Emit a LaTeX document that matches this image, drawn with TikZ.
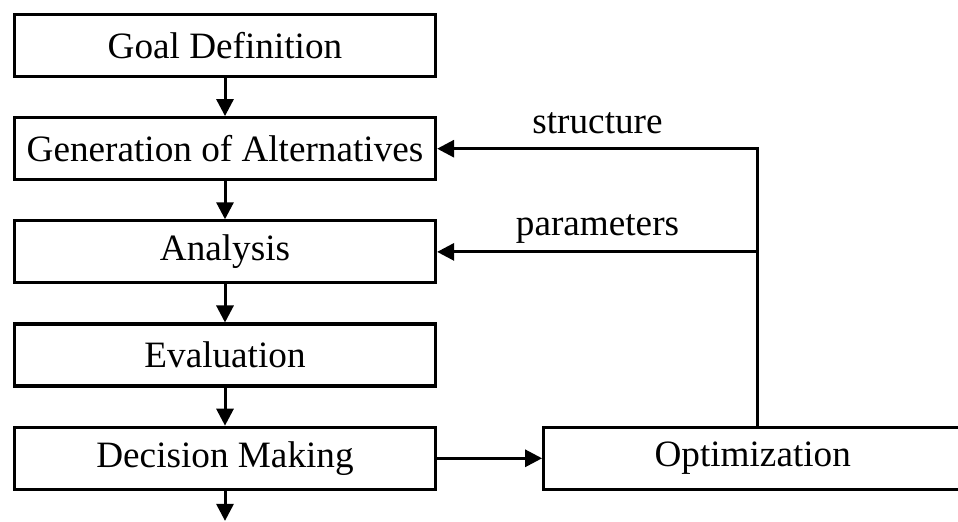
\documentclass[tikz,border=0pt]{standalone}
\usepackage{fontspec}
\setmainfont{Liberation Serif}
\usetikzlibrary{arrows.meta, positioning}

\begin{document}
\begin{tikzpicture}[
  node distance=19pt,
  box/.style={draw=black, line width=1.6pt, align=center, minimum width=210.5pt,
              minimum height=31pt, inner sep=0pt, font=\fontsize{18.6}{22}\selectfont},
  lbl/.style={font=\fontsize{18.6}{22}\selectfont},
  arr/.style={-{Triangle[length=8.5pt, width=8.5pt]}, line width=1.5pt}
]
\useasboundingbox (0,0) rectangle (479pt,-261pt);
\node[box] (goal) at (112.5pt,-22.75pt) {Goal Definition};
\node[box, below=of goal] (gen) {Generation of Alternatives};
\node[box, below=of gen] (ana) {Analysis};
\node[box, below=of ana] (eval) {Evaluation};
\node[box, below=of eval] (dec) {Decision Making};
\node[box, right=52.5pt of dec, minimum width=209pt] (opt) {Optimization};
\coordinate[below=15pt of dec] (exit);

\draw[arr] (goal) -- (gen);
\draw[arr] (gen) -- (ana);
\draw[arr] (ana) -- (eval);
\draw[arr] (eval) -- (dec);
\draw[arr] (dec) -- (exit);
\draw[arr] (dec) -- (opt);
\draw[arr] ([xshift=2.6pt]opt.north) |- node[lbl, pos=0.75, above=3.5pt] {structure} (gen.east);
\draw[arr] ([xshift=2.6pt]opt.north |- ana.east) -- node[lbl, above] {parameters} (ana.east);
\end{tikzpicture}
\end{document}
